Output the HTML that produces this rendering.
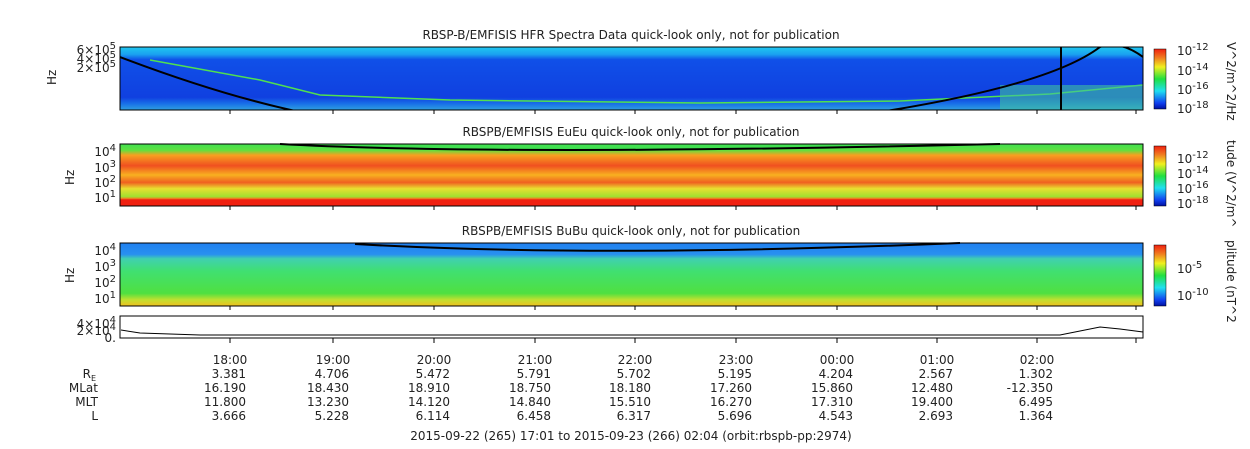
<!DOCTYPE html><html><head><style>body{margin:0;background:#fff}svg{display:block;font-family:"DejaVu Sans","Liberation Sans",sans-serif}</style></head><body>
<svg width="1250" height="449" viewBox="0 0 1250 449" xmlns="http://www.w3.org/2000/svg">
<defs>
<linearGradient id="g1" x1="0" y1="0" x2="0" y2="1">
<stop offset="0" stop-color="#20c8f0"/><stop offset="0.12" stop-color="#1aa0f0"/><stop offset="0.2" stop-color="#1050e8"/><stop offset="0.8" stop-color="#1040e0"/><stop offset="0.9" stop-color="#1870e8"/><stop offset="1" stop-color="#30a0e0"/></linearGradient>
<linearGradient id="g2" x1="0" y1="0" x2="0" y2="1">
<stop offset="0" stop-color="#40e050"/><stop offset="0.1" stop-color="#60e040"/><stop offset="0.18" stop-color="#f8a020"/><stop offset="0.35" stop-color="#f05020"/><stop offset="0.5" stop-color="#f8b020"/><stop offset="0.62" stop-color="#f06020"/><stop offset="0.72" stop-color="#e8e030"/><stop offset="0.85" stop-color="#a0e030"/><stop offset="0.88" stop-color="#f08020"/><stop offset="0.9" stop-color="#f02010"/><stop offset="1" stop-color="#f02010"/></linearGradient>
<linearGradient id="g3" x1="0" y1="0" x2="0" y2="1">
<stop offset="0" stop-color="#2080f0"/><stop offset="0.18" stop-color="#2890f0"/><stop offset="0.25" stop-color="#40d0b0"/><stop offset="0.45" stop-color="#40e070"/><stop offset="0.8" stop-color="#50e040"/><stop offset="0.9" stop-color="#c0e030"/><stop offset="1" stop-color="#f0c020"/></linearGradient>
<linearGradient id="cb" x1="0" y1="1" x2="0" y2="0">
<stop offset="0" stop-color="#0010a0"/><stop offset="0.1" stop-color="#1040f0"/><stop offset="0.3" stop-color="#20e0f0"/><stop offset="0.5" stop-color="#20e040"/><stop offset="0.7" stop-color="#f0f020"/><stop offset="0.85" stop-color="#f08020"/><stop offset="1" stop-color="#f02010"/></linearGradient>
<clipPath id="c1"><rect x="120" y="47" width="1023" height="63"/></clipPath>
</defs>
<g font-size="12" fill="#222" text-anchor="middle">
<text x="631" y="39">RBSP-B/EMFISIS  HFR Spectra Data quick-look only, not for publication</text>
<text x="631" y="136">RBSPB/EMFISIS  EuEu quick-look only, not for publication</text>
<text x="631" y="235">RBSPB/EMFISIS  BuBu quick-look only, not for publication</text>
</g>
<rect x="120" y="47" width="1023" height="63" fill="url(#g1)"/>
<g clip-path="url(#c1)">
<path d="M150 60 L260 80 L320 95 L450 100 L700 103 L900 101 L1050 94 L1143 85" stroke="#50e050" stroke-width="1.5" fill="none"/>
<rect x="1000" y="85" width="143" height="25" fill="#40c0a0" opacity="0.6"/>
<path d="M120 57 Q220 95 300 112 L880 112 Q1050 85 1100 47 Q1120 40 1143 57" stroke="#000" stroke-width="2" fill="none"/>
<line x1="1061" y1="47" x2="1061" y2="110" stroke="#000" stroke-width="2"/>
</g>
<rect x="120" y="47" width="1023" height="63" fill="none" stroke="#000"/>
<rect x="120" y="144" width="1023" height="62" fill="url(#g2)"/>
<path d="M280 144 Q500 156 1000 144 Z" fill="#40e050"/>
<path d="M280 144 Q500 156 1000 144" stroke="#000" stroke-width="2" fill="none"/>
<rect x="120" y="144" width="1023" height="62" fill="none" stroke="#000"/>
<rect x="120" y="243" width="1023" height="63" fill="url(#g3)"/>
<path d="M355 244 Q600 258 960 243" stroke="#000" stroke-width="2" fill="none"/>
<rect x="120" y="243" width="1023" height="63" fill="none" stroke="#000"/>
<rect x="120" y="316" width="1023" height="22" fill="#fff" stroke="#000"/>
<path d="M121 330 L140 333 L200 335 L1060 335 L1100 327 L1120 329 L1143 332" stroke="#000" fill="none"/>
<g stroke="#000">
<path d="M230 110v4M333 110v4M434 110v4M535 110v4M635 110v4M736 110v4M837 110v4M937 110v4M1037 110v4M1136 110v4M230 206v4M333 206v4M434 206v4M535 206v4M635 206v4M736 206v4M837 206v4M937 206v4M1037 206v4M1136 206v4M230 306v4M333 306v4M434 306v4M535 306v4M635 306v4M736 306v4M837 306v4M937 306v4M1037 306v4M1136 306v4M230 338v5M333 338v5M434 338v5M535 338v5M635 338v5M736 338v5M837 338v5M937 338v5M1037 338v5M1136 338v5"/>
</g>
<rect x="1154" y="49" width="12" height="60" fill="url(#cb)" stroke="#000" stroke-width="0.5"/>
<rect x="1154" y="146" width="12" height="60" fill="url(#cb)" stroke="#000" stroke-width="0.5"/>
<rect x="1154" y="245" width="12" height="61" fill="url(#cb)" stroke="#000" stroke-width="0.5"/>
<g font-size="12" fill="#222">
<text x="1177" y="55">10<tspan dy="-5" font-size="10">-12</tspan></text>
<text x="1177" y="75">10<tspan dy="-5" font-size="10">-14</tspan></text>
<text x="1177" y="94">10<tspan dy="-5" font-size="10">-16</tspan></text>
<text x="1177" y="113">10<tspan dy="-5" font-size="10">-18</tspan></text>
<text x="1177" y="163">10<tspan dy="-5" font-size="10">-12</tspan></text>
<text x="1177" y="178">10<tspan dy="-5" font-size="10">-14</tspan></text>
<text x="1177" y="193">10<tspan dy="-5" font-size="10">-16</tspan></text>
<text x="1177" y="208">10<tspan dy="-5" font-size="10">-18</tspan></text>
<text x="1177" y="273">10<tspan dy="-5" font-size="10">-5</tspan></text>
<text x="1177" y="300">10<tspan dy="-5" font-size="10">-10</tspan></text>
</g>
<g font-size="12" fill="#222">
<text transform="translate(1227,42) rotate(90)">V^2/m^2/Hz</text>
<text transform="translate(1227,140) rotate(90)">tude (V^2/m^</text>
<text transform="translate(1227,240) rotate(90)">plitude (nT^2</text>
<text transform="translate(56,85) rotate(-90)">Hz</text>
<text transform="translate(74,185) rotate(-90)">Hz</text>
<text transform="translate(74,283) rotate(-90)">Hz</text>
</g>
<g font-size="12" fill="#222" text-anchor="end">
<text x="116" y="54">6×10<tspan dy="-5" font-size="10">5</tspan></text>
<text x="116" y="63">4×10<tspan dy="-5" font-size="10">5</tspan></text>
<text x="116" y="72">2×10<tspan dy="-5" font-size="10">5</tspan></text>
<text x="116" y="156">10<tspan dy="-5" font-size="10">4</tspan></text>
<text x="116" y="172">10<tspan dy="-5" font-size="10">3</tspan></text>
<text x="116" y="187">10<tspan dy="-5" font-size="10">2</tspan></text>
<text x="116" y="202">10<tspan dy="-5" font-size="10">1</tspan></text>
<text x="116" y="255">10<tspan dy="-5" font-size="10">4</tspan></text>
<text x="116" y="271">10<tspan dy="-5" font-size="10">3</tspan></text>
<text x="116" y="287">10<tspan dy="-5" font-size="10">2</tspan></text>
<text x="116" y="303">10<tspan dy="-5" font-size="10">1</tspan></text>
<text x="116" y="328">4×10<tspan dy="-5" font-size="10">4</tspan></text>
<text x="116" y="335">2×10<tspan dy="-5" font-size="10">4</tspan></text>
<text x="116" y="342">0.</text>
</g>
<g font-size="12" fill="#222" text-anchor="middle">
<text x="230" y="364">18:00</text><text x="333" y="364">19:00</text><text x="434" y="364">20:00</text><text x="535" y="364">21:00</text><text x="635" y="364">22:00</text><text x="736" y="364">23:00</text><text x="837" y="364">00:00</text><text x="937" y="364">01:00</text><text x="1037" y="364">02:00</text>
</g>
<g font-size="12" fill="#222" text-anchor="end">
<text x="96" y="378">R<tspan font-size="8" dy="3">E</tspan></text>
<text x="98" y="392">MLat</text><text x="98" y="406">MLT</text><text x="98" y="420">L</text>
</g>
<g font-size="12" fill="#222" text-anchor="end">
<text x="246" y="378">3.381</text><text x="349" y="378">4.706</text><text x="450" y="378">5.472</text><text x="551" y="378">5.791</text><text x="651" y="378">5.702</text><text x="752" y="378">5.195</text><text x="853" y="378">4.204</text><text x="953" y="378">2.567</text><text x="1053" y="378">1.302</text>
<text x="246" y="392">16.190</text><text x="349" y="392">18.430</text><text x="450" y="392">18.910</text><text x="551" y="392">18.750</text><text x="651" y="392">18.180</text><text x="752" y="392">17.260</text><text x="853" y="392">15.860</text><text x="953" y="392">12.480</text><text x="1053" y="392">-12.350</text>
<text x="246" y="406">11.800</text><text x="349" y="406">13.230</text><text x="450" y="406">14.120</text><text x="551" y="406">14.840</text><text x="651" y="406">15.510</text><text x="752" y="406">16.270</text><text x="853" y="406">17.310</text><text x="953" y="406">19.400</text><text x="1053" y="406">6.495</text>
<text x="246" y="420">3.666</text><text x="349" y="420">5.228</text><text x="450" y="420">6.114</text><text x="551" y="420">6.458</text><text x="651" y="420">6.317</text><text x="752" y="420">5.696</text><text x="853" y="420">4.543</text><text x="953" y="420">2.693</text><text x="1053" y="420">1.364</text>
</g>
<text x="631" y="440" font-size="12" fill="#222" text-anchor="middle">2015-09-22 (265) 17:01 to 2015-09-23 (266) 02:04 (orbit:rbspb-pp:2974)</text>
</svg></body></html>
